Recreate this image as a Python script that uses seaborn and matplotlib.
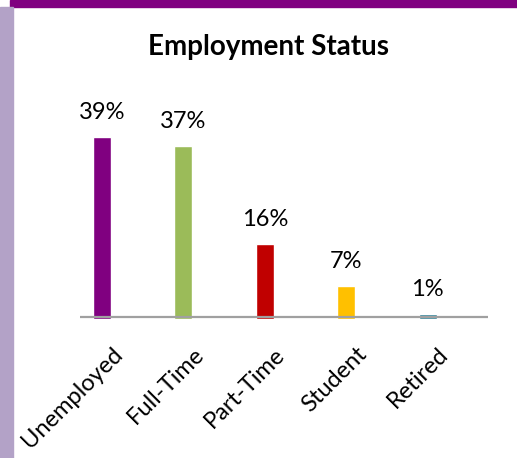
import matplotlib
matplotlib.use("Agg")
import matplotlib.pyplot as plt
import matplotlib.transforms as mtransforms
import seaborn as sns
from matplotlib.patches import Rectangle

# data
categories = ["Unemployed", "Full-Time", "Part-Time", "Student", "Retired"]
percent = [39, 37, 16, 7, 1]
colors = ["#800080", "#9BBB59", "#C00000", "#FFC000", "#31849B"]

sns.set_style("white")
plt.rcParams["font.family"] = ["Lato", "DejaVu Sans"]

fig = plt.figure(figsize=(5.17, 4.58), dpi=100)
ax = fig.add_axes([80 / 517, 139 / 458, 408 / 517, 219 / 458])

sns.barplot(x=categories, y=percent, hue=categories, palette=colors,
            width=0.22, legend=False, ax=ax, saturation=1)

ax.set_xlim(-0.27, 4.74)
ax.set_ylim(0, 46.9)
# axis line sits a touch above the bar feet, like in the original
ax.axhline(0.45, color="#A0A0A0", lw=1.6, zorder=5)

for c in ax.containers:
    ax.bar_label(c, labels=[f"{v:.0f}%" for v in c.datavalues], padding=10,
                 fontsize=17, color="black")

ax.set_yticks([])
ax.set_xlabel("")
ax.set_ylabel("")
for s in ax.spines.values():
    s.set_visible(False)
ax.tick_params(axis="x", length=0, pad=0)
shift = mtransforms.ScaledTranslation(17 / 100, -32 / 100, fig.dpi_scale_trans)
for lab in ax.get_xticklabels():
    lab.set_rotation(45)
    lab.set_ha("right")
    lab.set_va("center")
    lab.set_rotation_mode("anchor")
    lab.set_fontsize(17)
    lab.set_color("black")
    lab.set_transform(lab.get_transform() + shift)

fig.text(268 / 517, 1 - 47 / 458, "Employment Status", ha="center",
         va="center", fontsize=20, fontweight="bold", color="black")

# purple frame pieces
fig.patches.append(Rectangle((10 / 517, 1 - 7 / 458), 1, 7 / 458,
                             transform=fig.transFigure, color="#800080"))
fig.patches.append(Rectangle((0, 0), 13 / 517, 1 - 7 / 458,
                             transform=fig.transFigure, color="#B3A2C7"))

fig.savefig("out.png", dpi=100)
